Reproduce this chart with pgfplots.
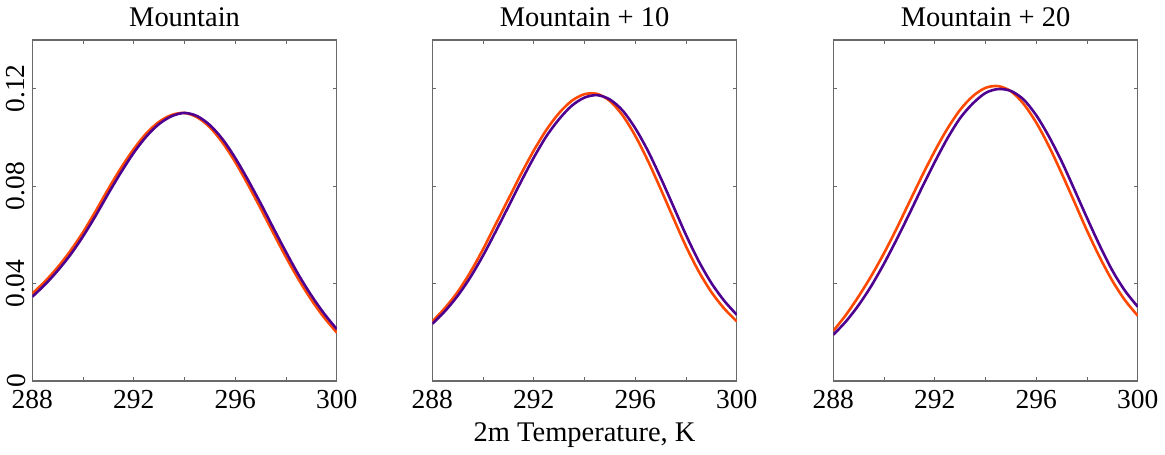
\documentclass[border=0pt]{standalone}
\usepackage{fontspec}
\setmainfont{Liberation Serif}
\usepackage{pgfplots}
\usepackage{pgfplotstable}
\pgfplotsset{compat=1.18}

\definecolor{cOrange}{RGB}{255,72,0}
\definecolor{cPurple}{RGB}{78,0,145}
\definecolor{axgray}{RGB}{105,105,105}

% x, orange, purple for each panel
\pgfplotstableread{
x     o      p
288.0 0.0359 0.0346
288.5 0.0409 0.0396
289.0 0.0467 0.0453
289.5 0.0534 0.0518
290.0 0.0611 0.0594
290.5 0.0698 0.0679
291.0 0.0789 0.0770
291.5 0.0875 0.0857
292.0 0.0952 0.0937
292.5 0.1017 0.1004
293.0 0.1064 0.1055
293.5 0.1092 0.1087
294.0 0.1100 0.1100
294.5 0.1082 0.1087
295.0 0.1041 0.1050
295.5 0.0978 0.0992
296.0 0.0898 0.0915
296.5 0.0806 0.0825
297.0 0.0708 0.0729
297.5 0.0607 0.0628
298.0 0.0508 0.0529
298.5 0.0416 0.0435
299.0 0.0333 0.0351
299.5 0.0261 0.0277
300.0 0.0199 0.0213
}\mountain

\pgfplotstableread{
x     o      p
288.0 0.0245 0.0235
288.5 0.0300 0.0287
289.0 0.0366 0.0350
289.5 0.0447 0.0426
290.0 0.0541 0.0515
290.5 0.0644 0.0614
291.0 0.0747 0.0716
291.5 0.0850 0.0819
292.0 0.0946 0.0917
292.5 0.1031 0.1005
293.0 0.1100 0.1075
293.5 0.1150 0.1130
294.0 0.1177 0.1163
294.5 0.1178 0.1173
295.0 0.1149 0.1155
295.5 0.1090 0.1110
296.0 0.1006 0.1037
296.5 0.0903 0.0944
297.0 0.0788 0.0834
297.5 0.0669 0.0717
298.0 0.0552 0.0599
298.5 0.0450 0.0492
299.0 0.0365 0.0402
299.5 0.0298 0.0330
300.0 0.0245 0.0272
}\mountainten

\pgfplotstableread{
x     o      p
288.0 0.0206 0.0190
288.5 0.0272 0.0245
289.0 0.0348 0.0312
289.5 0.0432 0.0391
290.0 0.0525 0.0482
290.5 0.0627 0.0582
291.0 0.0735 0.0687
291.5 0.0842 0.0795
292.0 0.0944 0.0899
292.5 0.1036 0.0996
293.0 0.1113 0.1079
293.5 0.1169 0.1139
294.0 0.1203 0.1182
294.5 0.1210 0.1198
295.0 0.1189 0.1190
295.5 0.1137 0.1155
296.0 0.1060 0.1090
296.5 0.0963 0.1003
297.0 0.0852 0.0901
297.5 0.0735 0.0786
298.0 0.0617 0.0669
298.5 0.0508 0.0556
299.0 0.0411 0.0453
299.5 0.0331 0.0370
300.0 0.0268 0.0305
}\mountaintwenty

\pgfplotsset{panel/.style={
  width=153pt, height=171.5pt, scale only axis,
  xmin=288, xmax=300, ymin=0, ymax=0.14,
  xtick={288,290,...,300}, xticklabels={288,,292,,296,,300},
  ytick={0,0.04,0.08,0.12},
  tick align=inside, major tick length=2pt,
  tick style={axgray, line width=0.5pt},
  axis line style={axgray, line width=0.7pt},
  ticklabel style={font=\fontsize{13.8}{14}\selectfont},
  title style={font=\fontsize{14.3}{15}\selectfont, yshift=-3pt},
  label style={font=\fontsize{14.3}{15}\selectfont},
  xticklabel style={yshift=-1pt},
}}

\begin{document}
\begin{tikzpicture}
\begin{axis}[panel, at={(0,0)}, title={Mountain},
  yticklabels={0,0.04,0.08,0.12},
  yticklabel style={rotate=90, anchor=south}]
\addplot[cOrange, line width=1.3pt, smooth] table[x=x, y=o] {\mountain};
\addplot[cPurple, line width=1.3pt, smooth] table[x=x, y=p] {\mountain};
\end{axis}
\begin{axis}[panel, at={(201pt,0)}, title={Mountain + 10},
  yticklabels={}, xlabel={2m Temperature, K}]
\addplot[cOrange, line width=1.3pt, smooth] table[x=x, y=o] {\mountainten};
\addplot[cPurple, line width=1.3pt, smooth] table[x=x, y=p] {\mountainten};
\end{axis}
\begin{axis}[panel, at={(402.5pt,0)}, title={Mountain + 20},
  yticklabels={}]
\addplot[cOrange, line width=1.3pt, smooth] table[x=x, y=o] {\mountaintwenty};
\addplot[cPurple, line width=1.3pt, smooth] table[x=x, y=p] {\mountaintwenty};
\end{axis}
\path (-16pt,-37pt) rectangle (566.5pt,191.5pt);
\end{tikzpicture}
\end{document}
